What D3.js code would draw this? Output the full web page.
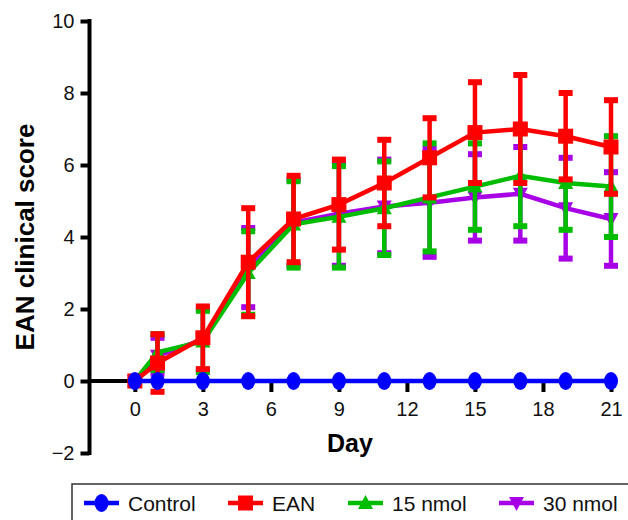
<!DOCTYPE html>
<html>
<head>
<meta charset="utf-8">
<script src="https://cdn.jsdelivr.net/npm/d3@7"></script>
<style>
    body { margin: 0; background: #fff; }
    text { font-family: "Liberation Sans", Arial, sans-serif; }
</style>
</head>
<body>
<div id="chart"></div>
<script>
"use strict";

// Дни наблюдения
const days = [0, 1, 3, 5, 7, 9, 11, 13, 15, 17, 19, 21];

// Средние значения и ошибки по группам
const controlMean = [0, 0, 0, 0, 0, 0, 0, 0, 0, 0, 0, 0];
const controlErr = [0, 0, 0, 0, 0, 0, 0, 0, 0, 0, 0, 0];
const eanMean = [0, 0.5, 1.2, 3.3, 4.5, 4.9, 5.5, 6.2, 6.9, 7.0, 6.8, 6.5];
const eanErr = [0, 0.8, 0.87, 1.5, 1.2, 1.25, 1.2, 1.1, 1.4, 1.5, 1.2, 1.3];
const nmol15Mean = [0, 0.8, 1.1, 3.0, 4.35, 4.56, 4.8, 5.1, 5.4, 5.7, 5.5, 5.4];
const nmol15Err = [0, 0.5, 0.85, 1.16, 1.2, 1.41, 1.3, 1.5, 1.2, 1.4, 1.3, 1.4];
const nmol30Mean = [0, 0.7, 1.15, 3.15, 4.4, 4.65, 4.85, 4.95, 5.1, 5.2, 4.8, 4.5];
const nmol30Err = [0, 0.5, 0.85, 1.1, 1.2, 1.45, 1.3, 1.5, 1.2, 1.3, 1.4, 1.3];

const xTicks = [0, 3, 6, 9, 12, 15, 18, 21];
const yTicks = [-2, 0, 2, 4, 6, 8, 10];

const width = 628;
const height = 520;

const x = d3.scaleLinear().domain([-2, 21]).range([89.5, 611]);
const y = d3.scaleLinear().domain([-2, 10]).range([453, 21]);

const svg = d3.select("#chart").append("svg")
    .attr("width", width)
    .attr("height", height);

// Оси
const yAxis = svg.append("g")
    .attr("transform", `translate(${x(-2)},0)`)
    .call(d3.axisLeft(y).tickValues(yTicks).tickSize(9).tickPadding(6)
        .tickFormat(d => d < 0 ? "\u2212" + Math.abs(d) : d));

const xAxis = svg.append("g")
    .attr("transform", `translate(0,${y(0)})`)
    .call(d3.axisBottom(x).tickValues(xTicks).tickSize(11).tickPadding(10));

[yAxis, xAxis].forEach(ax => {
    ax.select(".domain").attr("stroke", "#000").attr("stroke-width", 4);
    ax.selectAll(".tick line").attr("stroke", "#000").attr("stroke-width", 4);
    ax.selectAll(".tick text").attr("fill", "#111").style("font-size", "20px");
});
yAxis.select(".domain").attr("d", `M0,${y(10) - 2}V${y(-2) + 2}`);
xAxis.select(".domain").attr("d", `M${x(-2)},0H${x(21) + 2}`);

svg.append("text")
    .attr("transform", `translate(34,${(y(10) + y(-2)) / 2}) rotate(-90)`)
    .attr("text-anchor", "middle")
    .style("font-size", "26px")
    .style("font-weight", "bold")
    .text("EAN clinical score");

svg.append("text")
    .attr("x", 350)
    .attr("y", 452)
    .attr("text-anchor", "middle")
    .style("font-size", "25px")
    .style("font-weight", "bold")
    .text("Day");

// Маркеры
const markers = {
    circle: g => g.append("ellipse").attr("rx", 7).attr("ry", 9),
    square: g => g.append("rect").attr("x", -7.5).attr("y", -7.5).attr("width", 15).attr("height", 15),
    up: g => g.append("path").attr("d", "M0,-8L7.5,6L-7.5,6Z"),
    down: g => g.append("path").attr("d", "M0,8L7.5,-6L-7.5,-6Z")
};

const series = [
    { name: "Control", mean: controlMean, err: controlErr, color: "#0000ff", marker: "circle" },
    { name: "EAN", mean: eanMean, err: eanErr, color: "#ff0000", marker: "square" },
    { name: "15 nmol", mean: nmol15Mean, err: nmol15Err, color: "#00bd00", marker: "up" },
    { name: "30 nmol", mean: nmol30Mean, err: nmol30Err, color: "#a800e6", marker: "down" }
];

// Порядок отрисовки: 30 nmol снизу, Control сверху
const drawOrder = [3, 2, 1, 0];
const line = d3.line().x(d => x(d.day)).y(d => y(d.mean));

drawOrder.forEach(idx => {
    const s = series[idx];
    const pts = days.map((day, i) => ({ day: day, mean: s.mean[i], err: s.err[i] }));
    const g = svg.append("g").attr("class", `series_${idx}`);

    // Планки погрешностей
    pts.filter(p => p.err > 0).forEach(p => {
        const cx = x(p.day);
        g.append("line")
            .attr("x1", cx).attr("x2", cx)
            .attr("y1", y(p.mean - p.err)).attr("y2", y(p.mean + p.err))
            .style("stroke", s.color).style("stroke-width", 4.5);
        [p.mean - p.err, p.mean + p.err].forEach(v => {
            g.append("rect")
                .attr("x", cx - 7).attr("y", y(v) - 3)
                .attr("width", 14).attr("height", 6)
                .style("fill", s.color);
        });
    });

    g.append("path")
        .datum(pts)
        .attr("d", line)
        .style("fill", "none")
        .style("stroke", s.color)
        .style("stroke-width", 4.5);

    pts.forEach(p => {
        const m = g.append("g").attr("transform", `translate(${x(p.day)},${y(p.mean)})`);
        markers[s.marker](m).style("fill", s.color);
    });
});

// Легенда
const legend = svg.append("g");
legend.append("rect")
    .attr("x", 72).attr("y", 484)
    .attr("width", 620).attr("height", 100)
    .style("fill", "none")
    .style("stroke", "#333")
    .style("stroke-width", 1.5);

const legendX = [84, 228, 348, 499];
series.forEach((s, i) => {
    const lx = legendX[i];
    const item = legend.append("g").attr("transform", `translate(${lx},503)`);
    item.append("line")
        .attr("x1", 0).attr("x2", 35)
        .style("stroke", s.color).style("stroke-width", 4.5);
    markers[s.marker](item.append("g").attr("transform", "translate(17.5,0)")).style("fill", s.color);
    item.append("text")
        .attr("x", 44).attr("y", 7.5)
        .style("font-size", "21px")
        .style("fill", "#111")
        .text(s.name);
});
</script>
</body>
</html>
